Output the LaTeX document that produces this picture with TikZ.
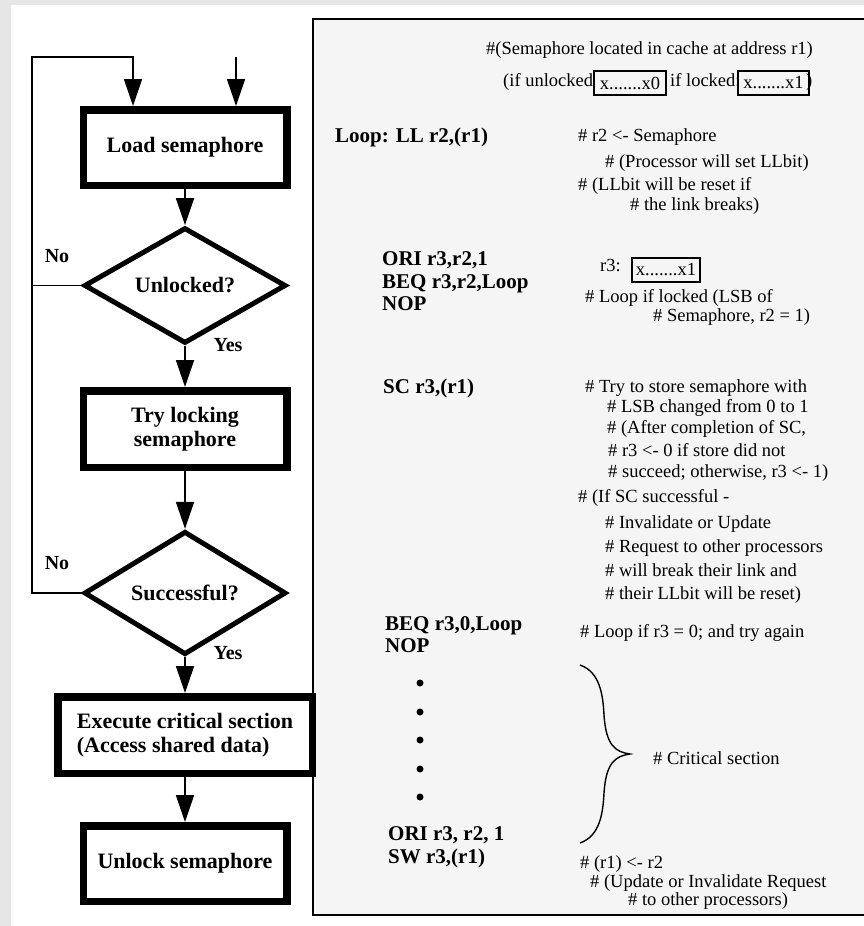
\documentclass[tikz,border=0pt]{standalone}
\usepackage{fontspec}
\setmainfont{Liberation Serif}
\usetikzlibrary{arrows.meta,shapes.geometric}
\definecolor{pagegray}{HTML}{E6E6E6}
\definecolor{panelfill}{HTML}{F5F5F5}

\begin{document}
\begin{tikzpicture}[x=1pt,y=-1pt,
  stepbox/.style={draw, line width=7.5pt, fill=white, minimum width=203.5pt,
    minimum height=75.5pt, inner sep=0pt, align=center,
    font=\bfseries\fontsize{22}{24}\selectfont},
  decision/.style={draw, diamond, line width=5pt, fill=white, minimum width=202pt,
    minimum height=97pt, inner sep=0pt, font=\bfseries\fontsize{22}{24}\selectfont},
  link/.style={line width=1.8pt},
  flow/.style={link, -{Triangle[length=27pt,width=18pt]}},
  branch/.style={inner sep=0pt, font=\bfseries\fontsize{20}{22}\selectfont},
  code/.style={anchor=west, inner sep=0pt, text height=15pt, text depth=5pt,
    font=\bfseries\fontsize{21}{23}\selectfont},
  note/.style={anchor=west, inner sep=0pt, text height=13pt, text depth=4pt,
    font=\fontsize{18.5}{20}\selectfont},
  bitbox/.style={draw, line width=1.5pt, minimum height=24pt, inner sep=0pt,
    font=\fontsize{18.5}{20}\selectfont},
  dot/.style={circle, fill, inner sep=0pt, minimum size=7pt},
]
\useasboundingbox (0,0) rectangle (864,926);

% page background
\fill[pagegray] (0,0) rectangle (864,926);
\fill[white] (11,5) rectangle (864,926);

% code panel
\path[draw, line width=2pt, fill=panelfill] (313,19) rectangle (875,915);

% ---------------- flowchart ----------------
\node[stepbox] (load) at (185,147.5) {Load semaphore};
\node[decision] (unl) at (185,285.5) {Unlocked?};
\node[stepbox, minimum height=76.5pt] (try) at (185,429) {Try locking\\semaphore};
\node[decision] (succ) at (185,593) {Successful?};
\node[stepbox, minimum width=254.5pt, minimum height=76.5pt, align=left] (crit)
  at (185,735) {Execute critical section\\(Access shared data)};
\node[stepbox] (unlock) at (185,863.5) {Unlock semaphore};

\draw[flow] (load) -- (unl);
\draw[flow] (unl) -- (try);
\draw[flow] (try) -- (succ);
\draw[flow] (succ) -- (crit);
\draw[flow] (crit) -- (unlock);

\coordinate (ret) at (32,57);
\coordinate (entry) at (236,57);
\draw[flow] (succ.west) -| (ret) -| ([xshift=-52pt]load.north);
\draw[link] (unl.west) -- (unl.west -| ret);
\draw[flow] (entry) -- (entry |- load.north);

\node[branch] (no1) at (57,256) {No};
\node[branch] (yes1) at (228,345) {Yes};
\node[branch] (no2) at (57,563) {No};
\node[branch] (yes2) at (228,653) {Yes};

% ---------------- code listing ----------------
\node[note, anchor=east] (c1) at (813,50) {\#(Semaphore located in cache at address r1)};
\node[note] (c2a) at (503,82) {(if unlocked:};
\node[bitbox, fill=panelfill, minimum width=72pt] (b0) at (630,83) {x.......x0};
\node[note] (c2b) at (670,82) {if locked:};
\node[bitbox, fill=panelfill, minimum width=71pt] (b1) at (773.5,83) {x.......x1};
\node[note] (c2c) at (806,82) {)};

\node[code] (k1) at (335,137) {Loop: LL r2,(r1)};
\node[note] (c3) at (578,137) {\# r2 <- Semaphore};
\node[note] (c4) at (605,163) {\# (Processor will set LLbit)};
\node[note] (c5) at (578,186) {\# (LLbit will be reset if};
\node[note] (c6) at (630,206) {\# the link breaks)};

\node[code] (k2) at (382,260) {ORI r3,r2,1};
\node[code] (k3) at (382,283) {BEQ r3,r2,Loop};
\node[code] (k4) at (382,305) {NOP};
\node[note] (c7) at (600,267) {r3:};
\node[bitbox, minimum width=68pt] (b2) at (666,270) {x.......x1};
\node[note] (c8) at (585,298) {\# Loop if locked (LSB of};
\node[note] (c9) at (653,317) {\# Semaphore, r2 = 1)};

\node[code] (k5) at (383,388) {SC r3,(r1)};
\node[note] (c10) at (585,388) {\# Try to store semaphore with};
\node[note] (c11) at (607,408) {\# LSB changed from 0 to 1};
\node[note] (c12) at (607,429) {\# (After completion of SC,};
\node[note] (c13) at (608,452) {\# r3 <- 0 if store did not};
\node[note] (c14) at (608,473) {\# succeed; otherwise, r3 <- 1)};
\node[note] (c15) at (578,498) {\# (If SC successful -};
\node[note] (c16) at (605,524) {\# Invalidate or Update};
\node[note] (c17) at (605,548) {\# Request to other processors};
\node[note] (c18) at (605,572) {\# will break their link and};
\node[note] (c19) at (605,595) {\# their LLbit will be reset)};

\node[code] (k6) at (385,625) {BEQ r3,0,Loop};
\node[code] (k7) at (385,647) {NOP};
\node[note] (c20) at (580,633) {\# Loop if r3 = 0; and try again};

\foreach \yy in {683,712,740,769,797}
  \node[dot] at (420,\yy) {};

% brace around the critical section
\draw[line width=1.4pt]
  (580,665) .. controls (600,672) and (603,695) .. (604,715)
  .. controls (606,745) and (615,752) .. (630,754)
  .. controls (615,756) and (606,763) .. (604,793)
  .. controls (603,813) and (600,836) .. (580,843);
\node[note] (c21) at (653,760) {\# Critical section};

\node[code] (k8) at (388,835) {ORI r3, r2, 1};
\node[code] (k9) at (388,858) {SW r3,(r1)};
\node[note] (c22) at (580,864) {\# (r1) <- r2};
\node[note] (c23) at (590,883) {\# (Update or Invalidate Request};
\node[note] (c24) at (628,901) {\# to other processors)};

\end{tikzpicture}
\end{document}
